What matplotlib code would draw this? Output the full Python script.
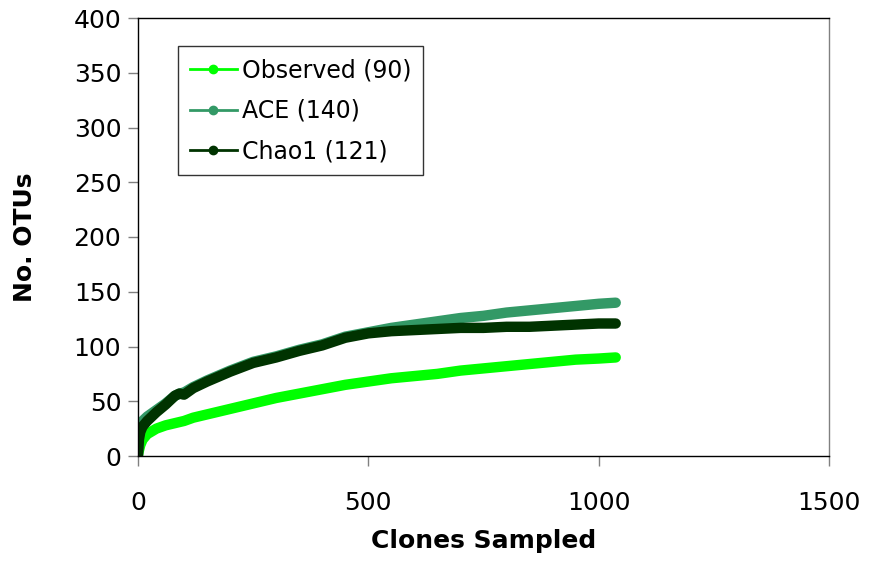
import numpy as np
import matplotlib
matplotlib.use("Agg")
import matplotlib.pyplot as plt
from matplotlib.lines import Line2D

plt.rcParams['font.family'] = ['DejaVu Sans']

# clones sampled (x) and estimated richness
clones = [0, 2, 5, 10, 20, 40, 60, 80, 90, 100, 120, 150, 200, 250, 300, 350,
          400, 450, 500, 550, 600, 650, 700, 750, 800, 850, 900, 950, 1000, 1037]
observed = [1, 5, 10, 15, 20, 25, 28, 30, 31, 32, 35, 38, 43, 48, 53, 57,
            61, 65, 68, 71, 73, 75, 78, 80, 82, 84, 86, 88, 89, 90]
ace = [5, 22, 28, 32, 36, 42, 48, 55, 57, 58, 63, 69, 78, 86, 91, 97,
       102, 109, 113, 117, 120, 123, 126, 128, 131, 133, 135, 137, 139, 140]
chao1 = [0, 15, 22, 27, 32, 40, 47, 55, 57, 56, 62, 68, 77, 85, 90, 96,
         101, 108, 112, 114, 115, 116, 117, 117, 118, 118, 119, 120, 121, 121]

labels = ['Observed (90)', 'ACE (140)', 'Chao1 (121)']
colors = ['#00ff00', '#339966', '#003300']
x_ticks = [0, 500, 1000, 1500]
y_ticks = list(range(0, 401, 50))

fig = plt.figure(figsize=(8.7, 5.62), dpi=100)
ax = fig.add_axes([138 / 870, 106 / 562, 691 / 870, 438 / 562])

for ys, c in zip([observed, ace, chao1], colors):
    ax.plot(clones, ys, color=c, lw=7.5, solid_capstyle='round',
            solid_joinstyle='round')

ax.set_xlim(0, 1500)
ax.set_ylim(0, 400)
ax.set_xticks(x_ticks)
ax.set_yticks(y_ticks)
ax.tick_params(direction='out', length=7, width=1, color='#808080',
               labelsize=18, pad=5)
ax.tick_params(axis='x', pad=18)
for s in ax.spines.values():
    s.set_linewidth(1)
    s.set_color('black')
ax.spines['right'].set_color('#808080')

ax.set_xlabel('Clones Sampled', fontsize=18, fontweight='bold', labelpad=10)
ax.set_ylabel('No. OTUs', fontsize=18, fontweight='bold', labelpad=26)

handles = [Line2D([], [], color=c, lw=2, marker='o', ms=6) for c in colors]
leg = ax.legend(handles, labels, loc='upper left',
                bbox_to_anchor=(0.058, 0.935), fontsize=17, frameon=True,
                fancybox=False, edgecolor='black', handlelength=2.0,
                handletextpad=0.2, labelspacing=0.7, borderpad=0.5,
                borderaxespad=0)
leg.get_frame().set_linewidth(1)

fig.savefig('out.png', dpi=100)
